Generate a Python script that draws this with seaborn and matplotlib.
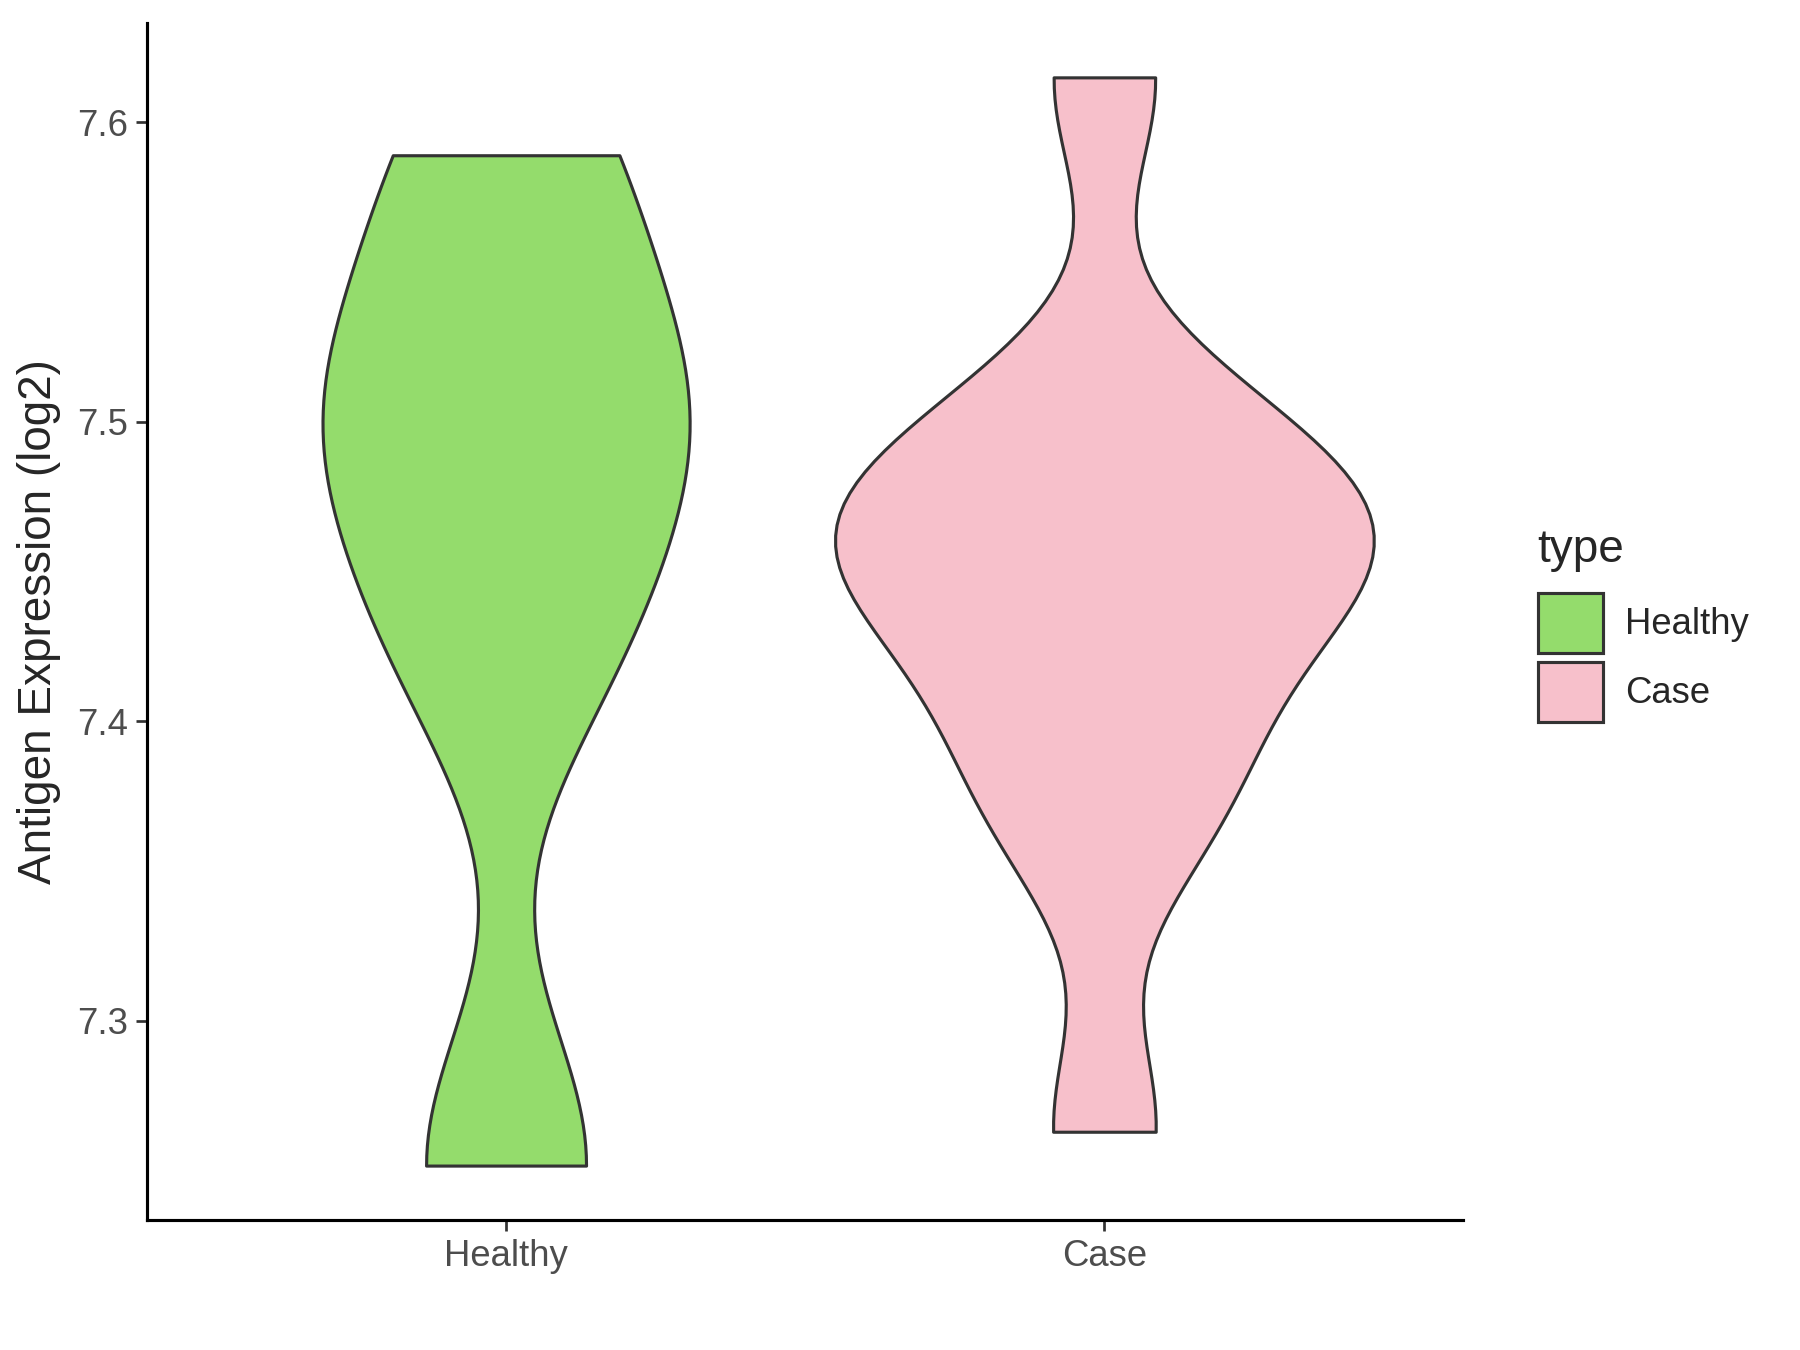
import numpy as np
import pandas as pd
import matplotlib.pyplot as plt
import seaborn as sns
from matplotlib.patches import Patch

# Values (log2 expression)
healthy_vals = [7.2517, 7.425, 7.487, 7.52, 7.589]
case_vals = [7.263, 7.36, 7.385, 7.415, 7.44, 7.455, 7.46, 7.47, 7.49, 7.505, 7.615]
groups = ["Healthy", "Case"]
colors = {"Healthy": "#94DC6C", "Case": "#F7C0CB"}
y_ticks = [7.3, 7.4, 7.5, 7.6]

df = pd.DataFrame({
    "type": ["Healthy"] * len(healthy_vals) + ["Case"] * len(case_vals),
    "value": healthy_vals + case_vals,
})


# R's bw.nrd0 rule (what ggplot uses), returned as a scipy factor
def nrd0(kde):
    x = kde.dataset.ravel()
    sd = x.std(ddof=1)
    iqr = np.subtract(*np.percentile(x, [75, 25]))
    h = 0.9 * min(sd, iqr / 1.34) * len(x) ** -0.2
    return h / sd


sns.set_style("ticks")
plt.rcParams["font.family"] = ["Liberation Sans", "DejaVu Sans"]

fig = plt.figure(figsize=(12, 9), dpi=150)
ax = fig.add_axes([0.0817, 0.0963, 0.7313, 0.8867])

# no hue here so "area" scaling is shared by both violins (like ggplot)
sns.violinplot(data=df, x="type", y="value", order=groups, color="white",
               saturation=1, inner=None, cut=0, density_norm="area",
               width=0.9, bw_method=nrd0, linewidth=1.5, linecolor="#333333",
               ax=ax)
for coll, g in zip(ax.collections, groups):
    coll.set_facecolor(colors[g])

# ggplot-like expansion
lo, hi = df["value"].min(), df["value"].max()
pad = 0.05 * (hi - lo)
ax.set_ylim(lo - pad, hi + pad)
ax.set_xlim(-0.6, 1.6)
ax.set_yticks(y_ticks)

ax.set_xlabel("")
ax.set_ylabel("Antigen Expression (log2)", fontsize=22, labelpad=8)
sns.despine(ax=ax)
for s in ["left", "bottom"]:
    ax.spines[s].set_linewidth(1.5)
    ax.spines[s].set_color("black")
ax.tick_params(labelsize=17.5, labelcolor="#4D4D4D", color="#333333",
               length=5.5, width=1.3)

handles = [Patch(facecolor=colors[g], edgecolor="#333333", linewidth=1.5, label=g)
           for g in groups]
leg = fig.legend(handles=handles, title="type", loc="center left",
                 bbox_to_anchor=(0.836, 0.537), frameon=False, fontsize=17.5,
                 title_fontsize=22, handlelength=1.8, handleheight=2.15,
                 labelspacing=0.25, handletextpad=0.6, alignment="left")
# a bit more room between the title and the keys
leg._legend_box.sep = 10

fig.savefig("out.png", dpi=150)
